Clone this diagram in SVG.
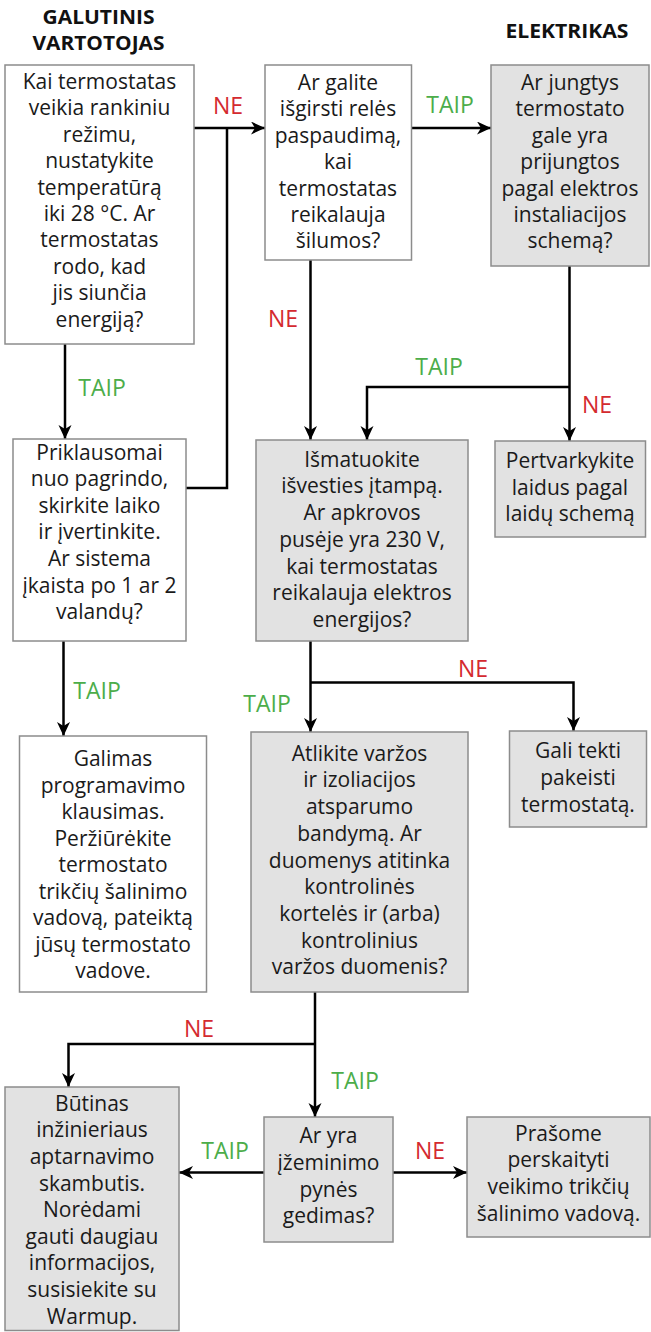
<svg xmlns="http://www.w3.org/2000/svg" width="651" height="1332" viewBox="0 0 651 1332">
<style>
.bw{fill:#ffffff;stroke:#8c8c8c;stroke-width:1.5}
.bg{fill:#e2e2e2;stroke:#8c8c8c;stroke-width:1.5}
.t{font-family:"Open Sans","Noto Sans",sans-serif;font-size:21px;fill:#1a1a1a;text-anchor:middle}
.h{font-family:"Open Sans","Noto Sans",sans-serif;font-size:20px;font-weight:bold;fill:#111;text-anchor:middle}
.ne{font-family:"Open Sans","Noto Sans",sans-serif;font-size:23px;fill:#d42a2f;text-anchor:middle}
.ta{font-family:"Open Sans","Noto Sans",sans-serif;font-size:23px;fill:#4cad4a;text-anchor:middle}
.c{fill:none;stroke:#000;stroke-width:2.5}
.a{marker-end:url(#ah)}
</style>
<defs>
<marker id="ah" markerUnits="userSpaceOnUse" markerWidth="16" markerHeight="14" refX="14" refY="6.5" orient="auto">
<path d="M0,0 L14,6.5 L0,13 L4,6.5 z" fill="#000"/>
</marker>
</defs>
<g id="titles">
<text class="h" x="98.5" y="24" textLength="112" lengthAdjust="spacingAndGlyphs">GALUTINIS</text>
<text class="h" x="98.5" y="50" textLength="132" lengthAdjust="spacingAndGlyphs">VARTOTOJAS</text>
<text class="h" x="567" y="38" textLength="123" lengthAdjust="spacingAndGlyphs">ELEKTRIKAS</text>
</g>
<g id="connectors">
<path class="c a" d="M194,128 H265"/>
<path class="c" d="M186,488 H227 V128"/>
<path class="c a" d="M411.5,128 H491"/>
<path class="c a" d="M65,344 V439"/>
<path class="c a" d="M310.5,260 V440"/>
<path class="c a" d="M569.5,266 V441"/>
<path class="c a" d="M569.5,387 H367 V440"/>
<path class="c a" d="M63.5,641 V736"/>
<path class="c a" d="M310.5,641 V732"/>
<path class="c a" d="M310.5,682.5 H573.5 V731"/>
<path class="c a" d="M315,992 V1117"/>
<path class="c a" d="M315,1044 H68.5 V1087"/>
<path class="c a" d="M264,1172.5 H179"/>
<path class="c a" d="M393,1172.5 H467"/>
<text class="ne" x="228" y="114">NE</text>
<text class="ta" x="450" y="113">TAIP</text>
<text class="ne" x="283" y="327">NE</text>
<text class="ta" x="439" y="375">TAIP</text>
<text class="ne" x="597" y="413">NE</text>
<text class="ta" x="102" y="396">TAIP</text>
<text class="ta" x="97" y="699">TAIP</text>
<text class="ne" x="473" y="677">NE</text>
<text class="ta" x="267" y="712">TAIP</text>
<text class="ne" x="199" y="1037">NE</text>
<text class="ta" x="355" y="1089">TAIP</text>
<text class="ta" x="225" y="1159">TAIP</text>
<text class="ne" x="430" y="1159">NE</text>
</g>
<g id="n1">
<rect class="bw" x="5" y="65" width="189" height="279"/>
<text class="t" x="99.5" y="89">Kai termostatas<tspan x="99.5" dy="26.4">veikia rankiniu</tspan><tspan x="99.5" dy="26.4">režimu,</tspan><tspan x="99.5" dy="26.4">nustatykite</tspan><tspan x="99.5" dy="26.4">temperatūrą</tspan><tspan x="99.5" dy="26.4">iki 28 °C. Ar</tspan><tspan x="99.5" dy="26.4">termostatas</tspan><tspan x="99.5" dy="26.4">rodo, kad</tspan><tspan x="99.5" dy="26.4">jis siunčia</tspan><tspan x="99.5" dy="26.4">energiją?</tspan></text>
</g>
<g id="n2">
<rect class="bw" x="265" y="65" width="146.5" height="195"/>
<text class="t" x="338" y="90">Ar galite<tspan x="338" dy="26.4">išgirsti relės</tspan><tspan x="338" dy="26.4">paspaudimą,</tspan><tspan x="338" dy="26.4">kai</tspan><tspan x="338" dy="26.4">termostatas</tspan><tspan x="338" dy="26.4">reikalauja</tspan><tspan x="338" dy="26.4">šilumos?</tspan></text>
</g>
<g id="n3">
<rect class="bg" x="491" y="65" width="158" height="201"/>
<text class="t" x="570" y="90">Ar jungtys<tspan x="570" dy="26.4">termostato</tspan><tspan x="570" dy="26.4">gale yra</tspan><tspan x="570" dy="26.4">prijungtos</tspan><tspan x="570" dy="26.4">pagal elektros</tspan><tspan x="570" dy="26.4">instaliacijos</tspan><tspan x="570" dy="26.4">schemą?</tspan></text>
</g>
<g id="n4">
<rect class="bw" x="13" y="439" width="173" height="202"/>
<text class="t" x="99.5" y="459.5">Priklausomai<tspan x="99.5" dy="26.6">nuo pagrindo,</tspan><tspan x="99.5" dy="26.6">skirkite laiko</tspan><tspan x="99.5" dy="26.6">ir įvertinkite.</tspan><tspan x="99.5" dy="26.6">Ar sistema</tspan><tspan x="99.5" dy="26.6">įkaista po 1 ar 2</tspan><tspan x="99.5" dy="26.6">valandų?</tspan></text>
</g>
<g id="n5">
<rect class="bg" x="256" y="440" width="212" height="201"/>
<text class="t" x="362" y="466.7">Išmatuokite<tspan x="362" dy="26.7">išvesties įtampą.</tspan><tspan x="362" dy="26.7">Ar apkrovos</tspan><tspan x="362" dy="26.7">pusėje yra 230 V,</tspan><tspan x="362" dy="26.7">kai termostatas</tspan><tspan x="362" dy="26.7">reikalauja elektros</tspan><tspan x="362" dy="26.7">energijos?</tspan></text>
</g>
<g id="n6">
<rect class="bg" x="495" y="441" width="150.5" height="96"/>
<text class="t" x="570" y="468.3">Pertvarkykite<tspan x="570" dy="26.5">laidus pagal</tspan><tspan x="570" dy="26.5">laidų schemą</tspan></text>
</g>
<g id="n7">
<rect class="bw" x="19.5" y="736" width="187" height="256"/>
<text class="t" x="113" y="766">Galimas<tspan x="113" dy="26.5">programavimo</tspan><tspan x="113" dy="26.5">klausimas.</tspan><tspan x="113" dy="26.5">Peržiūrėkite</tspan><tspan x="113" dy="26.5">termostato</tspan><tspan x="113" dy="26.5">trikčių šalinimo</tspan><tspan x="113" dy="26.5">vadovą, pateiktą</tspan><tspan x="113" dy="26.5">jūsų termostato</tspan><tspan x="113" dy="26.5">vadove.</tspan></text>
</g>
<g id="n8">
<rect class="bg" x="251" y="732" width="217" height="260"/>
<text class="t" x="359.5" y="760.7">Atlikite varžos<tspan x="359.5" dy="26.7">ir izoliacijos</tspan><tspan x="359.5" dy="26.7">atsparumo</tspan><tspan x="359.5" dy="26.7">bandymą. Ar</tspan><tspan x="359.5" dy="26.7">duomenys atitinka</tspan><tspan x="359.5" dy="26.7">kontrolinės</tspan><tspan x="359.5" dy="26.7">kortelės ir (arba)</tspan><tspan x="359.5" dy="26.7">kontrolinius</tspan><tspan x="359.5" dy="26.7">varžos duomenis?</tspan></text>
</g>
<g id="n9">
<rect class="bg" x="509.5" y="731" width="137" height="96"/>
<text class="t" x="578" y="758.3">Gali tekti<tspan x="578" dy="26.8">pakeisti</tspan><tspan x="578" dy="26.8">termostatą.</tspan></text>
</g>
<g id="n10">
<rect class="bg" x="5" y="1087" width="174" height="243.5"/>
<text class="t" x="92" y="1110.7">Būtinas<tspan x="92" dy="26.6">inžinieriaus</tspan><tspan x="92" dy="26.6">aptarnavimo</tspan><tspan x="92" dy="26.6">skambutis.</tspan><tspan x="92" dy="26.6">Norėdami</tspan><tspan x="92" dy="26.6">gauti daugiau</tspan><tspan x="92" dy="26.6">informacijos,</tspan><tspan x="92" dy="26.6">susisiekite su</tspan><tspan x="92" dy="26.6">Warmup.</tspan></text>
</g>
<g id="n11">
<rect class="bg" x="264" y="1117" width="129" height="125"/>
<text class="t" x="328.5" y="1143.3">Ar yra<tspan x="328.5" dy="26.7">įžeminimo</tspan><tspan x="328.5" dy="26.7">pynės</tspan><tspan x="328.5" dy="26.7">gedimas?</tspan></text>
</g>
<g id="n12">
<rect class="bg" x="467" y="1117" width="183" height="120"/>
<text class="t" x="558.5" y="1140.7">Prašome<tspan x="558.5" dy="26.7">perskaityti</tspan><tspan x="558.5" dy="26.7">veikimo trikčių</tspan><tspan x="558.5" dy="26.7">šalinimo vadovą.</tspan></text>
</g>
</svg>
